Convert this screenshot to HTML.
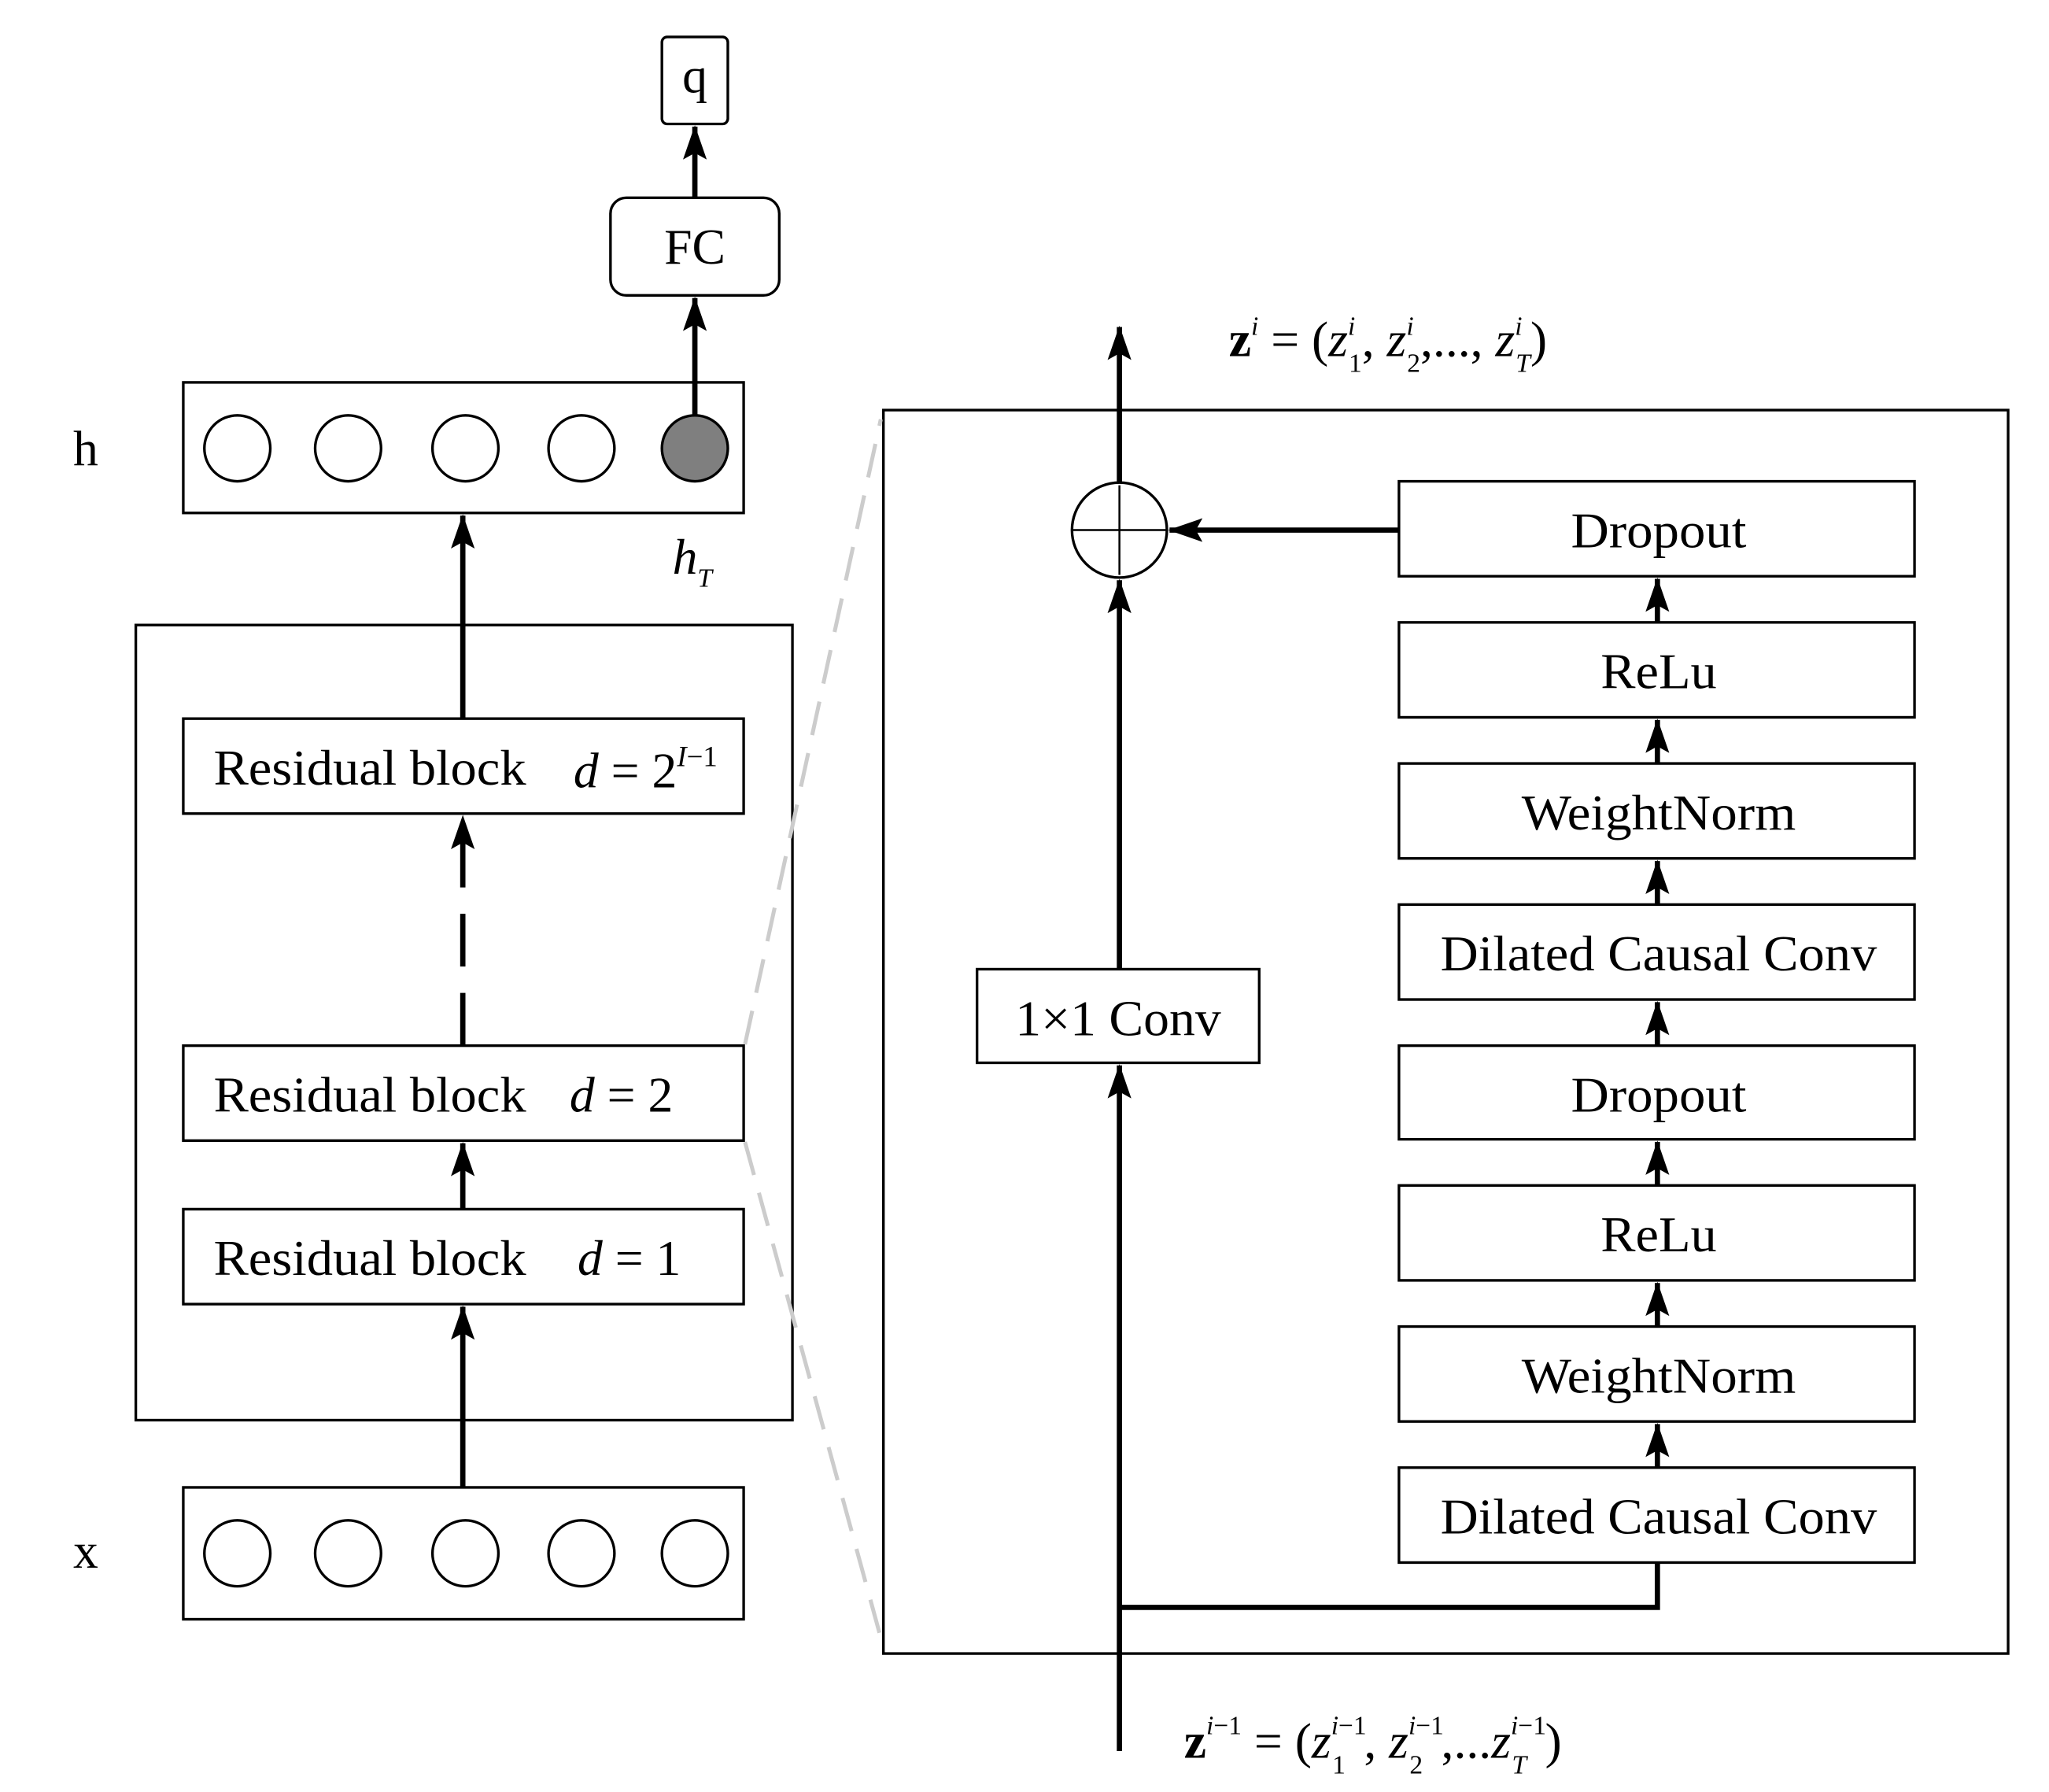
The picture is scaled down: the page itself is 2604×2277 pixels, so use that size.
<!DOCTYPE html>
<html><head><meta charset="utf-8"><style>
html,body{margin:0;padding:0;background:#fff;}
svg{display:block;}
text{font-family:"Liberation Serif",serif;fill:#000;}
</style></head><body>
<svg width="2604" height="2277" viewBox="0 0 1554 1359" preserveAspectRatio="none" xmlns="http://www.w3.org/2000/svg">
<defs>
<marker id="b" markerWidth="26" markerHeight="22" refX="25" refY="11" orient="auto" markerUnits="userSpaceOnUse" viewBox="0 0 26 22">
<path d="M0,2 L26,11 L0,20 L5,11 Z" fill="#000"/>
</marker>
</defs>
<g fill="none" stroke="#000" stroke-width="2">
<rect x="502" y="28" width="50" height="66" rx="4"/>
<rect x="463" y="150" width="128" height="74" rx="12"/>
<rect x="139" y="290" width="425" height="99"/>
<rect x="103" y="474" width="498" height="603"/>
<rect x="139" y="545" width="425" height="72"/>
<rect x="139" y="793" width="425" height="72"/>
<rect x="139" y="917" width="425" height="72"/>
<rect x="139" y="1128" width="425" height="100"/>
<rect x="670" y="311" width="853" height="943"/>
<rect x="741" y="735" width="214" height="71"/>
<rect x="1061" y="365" width="391" height="72"/>
<rect x="1061" y="472" width="391" height="72"/>
<rect x="1061" y="579" width="391" height="72"/>
<rect x="1061" y="686" width="391" height="72"/>
<rect x="1061" y="793" width="391" height="71"/>
<rect x="1061" y="899" width="391" height="72"/>
<rect x="1061" y="1006" width="391" height="72"/>
<rect x="1061" y="1113" width="391" height="72"/>
<circle cx="180" cy="340" r="25"/><circle cx="264" cy="340" r="25"/><circle cx="353" cy="340" r="25"/><circle cx="441" cy="340" r="25"/>
<circle cx="527" cy="340" r="25" fill="#7f7f7f"/>
<circle cx="180" cy="1178" r="25"/><circle cx="264" cy="1178" r="25"/><circle cx="353" cy="1178" r="25"/><circle cx="441" cy="1178" r="25"/><circle cx="527" cy="1178" r="25"/>
<circle cx="849" cy="402" r="36"/>
<line x1="813" y1="402" x2="885" y2="402" stroke-width="1.5"/>
</g>
<g stroke="#ccc" stroke-width="3" stroke-dasharray="26,14" fill="none">
<line x1="565" y1="792" x2="668" y2="318"/>
<line x1="565" y1="866" x2="668" y2="1242"/>
</g>
<g stroke="#000" stroke-width="4" fill="none">
<line x1="527" y1="150" x2="527" y2="96" marker-end="url(#b)"/>
<line x1="527" y1="316" x2="527" y2="226" marker-end="url(#b)"/>
<line x1="351" y1="545" x2="351" y2="391" marker-end="url(#b)"/>
<line x1="351" y1="793" x2="351" y2="619" marker-end="url(#b)" stroke-dasharray="40,20"/>
<line x1="351" y1="917" x2="351" y2="867" marker-end="url(#b)"/>
<line x1="351" y1="1128" x2="351" y2="991" marker-end="url(#b)"/>
<line x1="849" y1="1328" x2="849" y2="808" marker-end="url(#b)"/>
<line x1="849" y1="735" x2="849" y2="440" marker-end="url(#b)"/>
<line x1="849" y1="366" x2="849" y2="248" marker-end="url(#b)"/>
<line x1="1061" y1="402" x2="887" y2="402" marker-end="url(#b)"/>
<polyline points="849,1219 1257,1219 1257,1185"/>
<line x1="1257" y1="1113" x2="1257" y2="1080" marker-end="url(#b)"/>
<line x1="1257" y1="1006" x2="1257" y2="973" marker-end="url(#b)"/>
<line x1="1257" y1="899" x2="1257" y2="866" marker-end="url(#b)"/>
<line x1="1257" y1="793" x2="1257" y2="760" marker-end="url(#b)"/>
<line x1="1257" y1="686" x2="1257" y2="653" marker-end="url(#b)"/>
<line x1="1257" y1="579" x2="1257" y2="546" marker-end="url(#b)"/>
<line x1="1257" y1="472" x2="1257" y2="439" marker-end="url(#b)"/>
</g>
<line x1="849" y1="368" x2="849" y2="436" stroke="#000" stroke-width="1.5"/>
<g font-size="38" text-anchor="middle">
<text x="527" y="70">q</text>
<text x="527" y="200">FC</text>
<text x="65" y="353">h</text>
<text x="65" y="1189">x</text>
<text x="848" y="785" textLength="156" lengthAdjust="spacingAndGlyphs">1×1 Conv</text>
<text x="1258" y="415" textLength="133" lengthAdjust="spacingAndGlyphs">Dropout</text>
<text x="1258" y="522" textLength="88" lengthAdjust="spacingAndGlyphs">ReLu</text>
<text x="1258" y="629" textLength="208" lengthAdjust="spacingAndGlyphs">WeightNorm</text>
<text x="1258" y="736" textLength="331" lengthAdjust="spacingAndGlyphs">Dilated Causal Conv</text>
<text x="1258" y="843" textLength="133" lengthAdjust="spacingAndGlyphs">Dropout</text>
<text x="1258" y="949" textLength="88" lengthAdjust="spacingAndGlyphs">ReLu</text>
<text x="1258" y="1056" textLength="208" lengthAdjust="spacingAndGlyphs">WeightNorm</text>
<text x="1258" y="1163" textLength="331" lengthAdjust="spacingAndGlyphs">Dilated Causal Conv</text>
</g>
<g font-size="38">
<text x="162" y="595" textLength="237" lengthAdjust="spacingAndGlyphs">Residual block</text>
<text x="435" y="597"><tspan font-style="italic">d</tspan> = 2<tspan font-size="22" dy="-16" font-style="italic">I</tspan><tspan font-size="22">−1</tspan></text>
<text x="162" y="843" textLength="237" lengthAdjust="spacingAndGlyphs">Residual block</text>
<text x="432" y="843"><tspan font-style="italic">d</tspan> = 2</text>
<text x="162" y="967" textLength="237" lengthAdjust="spacingAndGlyphs">Residual block</text>
<text x="438" y="967"><tspan font-style="italic">d</tspan> = 1</text>
<text x="510" y="435" font-style="italic">h<tspan font-size="20" dy="10">T</tspan></text>
<text x="932" y="270"><tspan font-weight="bold">z</tspan><tspan font-size="20" dy="-16" font-style="italic">i</tspan><tspan dy="16"> = (</tspan><tspan font-style="italic">z</tspan><tspan font-size="20" font-style="italic" dy="-16">i</tspan><tspan font-size="20" dx="-5" dy="28">1</tspan><tspan dy="-12">, </tspan><tspan font-style="italic">z</tspan><tspan font-size="20" font-style="italic" dy="-16">i</tspan><tspan font-size="20" dx="-5" dy="28">2</tspan><tspan dy="-12">,..., </tspan><tspan font-style="italic">z</tspan><tspan font-size="20" font-style="italic" dy="-16">i</tspan><tspan font-size="20" dx="-5" dy="28" font-style="italic">T</tspan><tspan dy="-12">)</tspan></text>
<text x="898" y="1333"><tspan font-weight="bold">z</tspan><tspan font-size="20" dy="-18"><tspan font-style="italic">i</tspan>−1</tspan><tspan dy="18"> = (</tspan><tspan font-style="italic">z</tspan><tspan font-size="20" dy="-18"><tspan font-style="italic">i</tspan>−1</tspan><tspan font-size="20" dx="-26" dy="30">1</tspan><tspan dx="14" dy="-12">, </tspan><tspan font-style="italic">z</tspan><tspan font-size="20" dy="-18"><tspan font-style="italic">i</tspan>−1</tspan><tspan font-size="20" dx="-26" dy="30">2</tspan><tspan dx="14" dy="-12">,...</tspan><tspan font-style="italic">z</tspan><tspan font-size="20" dy="-18"><tspan font-style="italic">i</tspan>−1</tspan><tspan font-size="20" dx="-26" dy="30" font-style="italic">T</tspan><tspan dx="14" dy="-12">)</tspan></text>
</g>
</svg>
</body></html>
